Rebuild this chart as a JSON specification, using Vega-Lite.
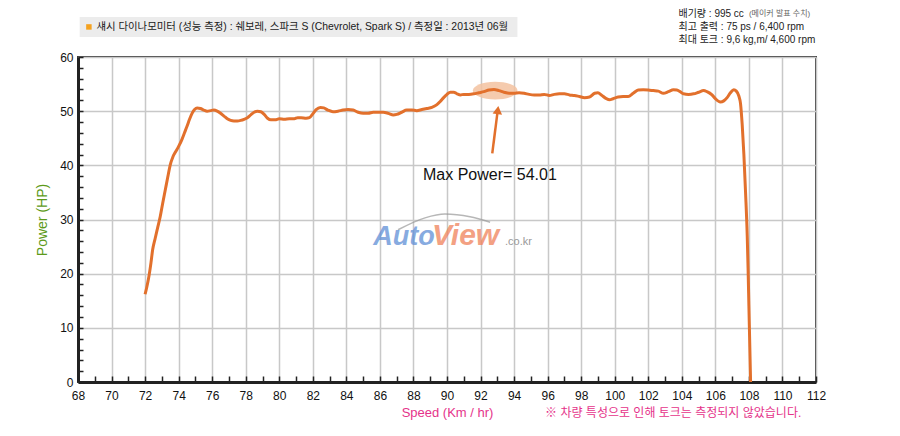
{
  "$schema": "https://vega.github.io/schema/vega-lite/v6.json",
  "width": 738,
  "height": 325,
  "autosize": {"type": "none"},
  "padding": {"left": 78, "top": 57, "right": 84, "bottom": 54},
  "background": "white",
  "config": {
    "font": "Liberation Sans, Noto Sans CJK KR",
    "view": {"stroke": "#3a3a3a", "strokeWidth": 2}
  },
  "encoding": {
    "x": {
      "field": "x",
      "type": "quantitative",
      "scale": {"domain": [68, 112], "nice": false, "zero": false},
      "axis": {
        "title": "Speed (Km / hr)",
        "titleColor": "#e5338a",
        "titleFontSize": 13,
        "titleFontWeight": "normal",
        "titlePadding": 5,
        "tickCount": 88,
        "format": "d",
        "labelExpr": "datum.value % 2 === 0 ? datum.label : ''",
        "labelOverlap": false,
        "labelFlush": false,
        "labelFontSize": 12,
        "labelColor": "#111",
        "labelPadding": 14,
        "grid": true,
        "gridColor": "#c8c8c8",
        "gridWidth": 1.5,
        "gridOpacity": {"condition": {"test": "datum.value % 2 === 0", "value": 1}, "value": 0},
        "tickSize": -6,
        "tickColor": "#222",
        "tickWidth": 1.5,
        "domainColor": "#222",
        "domainWidth": 3
      }
    },
    "y": {
      "field": "y",
      "type": "quantitative",
      "scale": {"domain": [0, 60], "nice": false},
      "axis": {
        "title": "Power (HP)",
        "titleColor": "#5d9a1a",
        "titleFontSize": 14,
        "titleFontWeight": "normal",
        "titlePadding": 10,
        "tickCount": 30,
        "format": "d",
        "labelExpr": "datum.value % 10 === 0 ? datum.label : ''",
        "labelOverlap": false,
        "labelFontSize": 12,
        "labelColor": "#111",
        "labelPadding": 10,
        "grid": true,
        "gridColor": "#c8c8c8",
        "gridWidth": 1.5,
        "gridOpacity": {"condition": {"test": "datum.value % 10 === 0", "value": 1}, "value": 0},
        "tickSize": -5,
        "tickColor": "#222",
        "tickWidth": 1.5,
        "domainColor": "#222",
        "domainWidth": 3
      }
    }
  },
  "layer": [
    {
      "data": {"values": [{"x": 68.1, "x2": 94.2, "y": 63.7, "y2": 67.4}]},
      "mark": {"type": "rect", "color": "#ececec"},
      "encoding": {"x2": {"field": "x2"}, "y2": {"field": "y2"}}
    },
    {
      "data": {"values": [{"x": 68.65, "y": 65.55}]},
      "mark": {"type": "square", "color": "#f5a21f", "opacity": 1, "size": 30}
    },
    {
      "data": {"values": [{"x": 69.1, "y": 65.55, "t": "섀시 다이나모미터 (성능 측정) : 쉐보레, 스파크 S (Chevrolet, Spark S) / 측정일 : 2013년 06월"}]},
      "mark": {"type": "text", "align": "left", "baseline": "middle", "fontSize": 10.4, "color": "#1a1a1a"},
      "encoding": {"text": {"field": "t"}}
    },
    {
      "data": {"values": [
        {"x": 103.8, "y": 67.9, "t": "배기량 : 995 cc"},
        {"x": 103.8, "y": 65.5, "t": "최고 출력 : 75 ps / 6,400 rpm"},
        {"x": 103.8, "y": 63.1, "t": "최대 토크 : 9,6 kg,m/ 4,600 rpm"}
      ]},
      "mark": {"type": "text", "align": "left", "baseline": "middle", "fontSize": 10, "color": "#222"},
      "encoding": {"text": {"field": "t"}}
    },
    {
      "data": {"values": [{"x": 108.0, "y": 67.9, "t": "(메이커 발표 수치)"}]},
      "mark": {"type": "text", "align": "left", "baseline": "middle", "fontSize": 8, "color": "#666"},
      "encoding": {"text": {"field": "t"}}
    },
    {
      "data": {"values": [
        {"x": 87.08, "y": 28.1},
        {"x": 88.69, "y": 30.3},
        {"x": 89.88, "y": 31.0},
        {"x": 91.37, "y": 30.5},
        {"x": 92.57, "y": 29.5}
      ]},
      "mark": {"type": "line", "color": "#999", "strokeWidth": 1.5, "opacity": 0.7, "interpolate": "monotone"}
    },
    {
      "data": {"values": [
        {"x": 85.6, "y": 25.3, "t": "Auto", "c": "a", "s": 27},
        {"x": 89.1, "y": 25.3, "t": "View", "c": "v", "s": 30}
      ]},
      "mark": {"type": "text", "align": "left", "baseline": "alphabetic", "fontWeight": "bold", "fontStyle": "italic", "opacity": 0.75},
      "encoding": {
        "text": {"field": "t"},
        "size": {"field": "s", "type": "quantitative", "scale": null},
        "color": {"field": "c", "type": "nominal", "scale": {"domain": ["a", "v"], "range": ["#5f8fd6", "#f0825a"]}, "legend": null}
      }
    },
    {
      "data": {"values": [{"x": 93.46, "y": 25.3, "t": ".co.kr"}]},
      "mark": {"type": "text", "align": "left", "baseline": "alphabetic", "fontSize": 11, "color": "#999"},
      "encoding": {"text": {"field": "t"}}
    },
    {
      "data": {"values": [{"x": 92.87, "y": 53.8}]},
      "mark": {"type": "point", "shape": "M-1,0A1,0.4 0 1,0 1,0A1,0.4 0 1,0 -1,0Z", "size": 1990, "filled": true, "color": "#f3c2a0", "opacity": 0.85}
    },
    {
      "data": {"values": [
        {"x": 72.0, "y": 16.2}, {"x": 72.1, "y": 17.5}, {"x": 72.2, "y": 19.0}, {"x": 72.35, "y": 22.0},
        {"x": 72.45, "y": 24.4}, {"x": 72.6, "y": 26.5}, {"x": 72.75, "y": 28.5}, {"x": 72.9, "y": 30.5},
        {"x": 73.05, "y": 33.0}, {"x": 73.2, "y": 35.4}, {"x": 73.35, "y": 37.8}, {"x": 73.5, "y": 40.1},
        {"x": 73.65, "y": 41.5}, {"x": 73.8, "y": 42.4}, {"x": 74.0, "y": 43.5}, {"x": 74.2, "y": 44.8},
        {"x": 74.35, "y": 46.0}, {"x": 74.5, "y": 47.2}, {"x": 74.65, "y": 48.5}, {"x": 74.8, "y": 49.6},
        {"x": 74.95, "y": 50.3}, {"x": 75.1, "y": 50.6}, {"x": 75.3, "y": 50.5}, {"x": 75.5, "y": 50.2},
        {"x": 75.7, "y": 50.0}, {"x": 75.9, "y": 50.1}, {"x": 76.1, "y": 50.2}, {"x": 76.3, "y": 50.0},
        {"x": 76.5, "y": 49.6}, {"x": 76.7, "y": 49.1}, {"x": 76.9, "y": 48.6}, {"x": 77.1, "y": 48.3},
        {"x": 77.3, "y": 48.2}, {"x": 77.5, "y": 48.2}, {"x": 77.7, "y": 48.3}, {"x": 77.9, "y": 48.5},
        {"x": 78.1, "y": 48.8}, {"x": 78.3, "y": 49.3}, {"x": 78.5, "y": 49.8}, {"x": 78.7, "y": 50.0},
        {"x": 78.9, "y": 49.9}, {"x": 79.1, "y": 49.4}, {"x": 79.3, "y": 48.7}, {"x": 79.5, "y": 48.4},
        {"x": 79.75, "y": 48.4}, {"x": 80.0, "y": 48.6}, {"x": 80.3, "y": 48.5}, {"x": 80.6, "y": 48.6},
        {"x": 80.9, "y": 48.6}, {"x": 81.1, "y": 48.8}, {"x": 81.3, "y": 48.8}, {"x": 81.6, "y": 48.7},
        {"x": 81.8, "y": 48.8}, {"x": 82.0, "y": 49.5}, {"x": 82.2, "y": 50.3}, {"x": 82.45, "y": 50.7},
        {"x": 82.65, "y": 50.6}, {"x": 82.9, "y": 50.2}, {"x": 83.2, "y": 49.9}, {"x": 83.5, "y": 50.0},
        {"x": 83.8, "y": 50.2}, {"x": 84.1, "y": 50.3}, {"x": 84.4, "y": 50.2}, {"x": 84.7, "y": 49.8},
        {"x": 85.0, "y": 49.6}, {"x": 85.3, "y": 49.6}, {"x": 85.6, "y": 49.8}, {"x": 85.9, "y": 49.8},
        {"x": 86.2, "y": 49.8}, {"x": 86.5, "y": 49.6}, {"x": 86.8, "y": 49.3}, {"x": 87.0, "y": 49.4},
        {"x": 87.3, "y": 49.8}, {"x": 87.6, "y": 50.2}, {"x": 87.9, "y": 50.2}, {"x": 88.2, "y": 50.1},
        {"x": 88.5, "y": 50.3}, {"x": 88.8, "y": 50.5}, {"x": 89.1, "y": 50.7}, {"x": 89.4, "y": 51.2},
        {"x": 89.6, "y": 51.8}, {"x": 89.8, "y": 52.5}, {"x": 90.0, "y": 53.1}, {"x": 90.2, "y": 53.5},
        {"x": 90.4, "y": 53.5}, {"x": 90.6, "y": 53.2}, {"x": 90.8, "y": 53.0}, {"x": 91.0, "y": 53.1},
        {"x": 91.3, "y": 53.1}, {"x": 91.6, "y": 53.2}, {"x": 91.9, "y": 53.4}, {"x": 92.2, "y": 53.6},
        {"x": 92.5, "y": 53.9}, {"x": 92.8, "y": 54.01}, {"x": 93.1, "y": 53.8}, {"x": 93.4, "y": 53.5},
        {"x": 93.7, "y": 53.3}, {"x": 94.0, "y": 53.3}, {"x": 94.3, "y": 53.4}, {"x": 94.6, "y": 53.3},
        {"x": 94.9, "y": 53.1}, {"x": 95.2, "y": 53.0}, {"x": 95.5, "y": 53.0}, {"x": 95.8, "y": 53.1},
        {"x": 96.1, "y": 52.9}, {"x": 96.4, "y": 53.1}, {"x": 96.7, "y": 53.2}, {"x": 97.0, "y": 53.2},
        {"x": 97.3, "y": 53.0}, {"x": 97.6, "y": 52.9}, {"x": 97.9, "y": 52.7}, {"x": 98.2, "y": 52.5},
        {"x": 98.5, "y": 52.6}, {"x": 98.8, "y": 53.3}, {"x": 99.0, "y": 53.4}, {"x": 99.2, "y": 53.0},
        {"x": 99.5, "y": 52.3}, {"x": 99.7, "y": 52.1}, {"x": 99.9, "y": 52.3}, {"x": 100.2, "y": 52.6},
        {"x": 100.5, "y": 52.7}, {"x": 100.8, "y": 52.7}, {"x": 101.1, "y": 53.3}, {"x": 101.4, "y": 53.9},
        {"x": 101.7, "y": 53.95}, {"x": 102.0, "y": 53.9}, {"x": 102.3, "y": 53.8}, {"x": 102.6, "y": 53.7},
        {"x": 102.9, "y": 53.3}, {"x": 103.2, "y": 53.6}, {"x": 103.5, "y": 53.95}, {"x": 103.7, "y": 53.9},
        {"x": 103.9, "y": 53.6}, {"x": 104.1, "y": 53.2}, {"x": 104.4, "y": 53.1}, {"x": 104.7, "y": 53.2},
        {"x": 105.0, "y": 53.5}, {"x": 105.3, "y": 53.8}, {"x": 105.5, "y": 53.6}, {"x": 105.8, "y": 53.0},
        {"x": 106.0, "y": 52.3}, {"x": 106.3, "y": 51.7}, {"x": 106.5, "y": 51.9}, {"x": 106.7, "y": 52.5},
        {"x": 106.9, "y": 53.4}, {"x": 107.1, "y": 53.95}, {"x": 107.25, "y": 53.7}, {"x": 107.4, "y": 52.8},
        {"x": 107.5, "y": 51.4}, {"x": 107.6, "y": 47.5}, {"x": 107.7, "y": 42.0}, {"x": 107.8, "y": 35.0},
        {"x": 107.9, "y": 27.0}, {"x": 107.95, "y": 21.0}, {"x": 108.0, "y": 14.0}, {"x": 108.05, "y": 7.0},
        {"x": 108.1, "y": 0}
      ]},
      "mark": {"type": "line", "color": "#e2702c", "strokeWidth": 3, "interpolate": "monotone"}
    },
    {
      "data": {"values": [{"x": 92.7, "y": 42.2, "x2": 93.0, "y2": 49.6}]},
      "mark": {"type": "rule", "color": "#e2702c", "strokeWidth": 2.5},
      "encoding": {"x2": {"field": "x2"}, "y2": {"field": "y2"}}
    },
    {
      "data": {"values": [{"x": 93.03, "y": 50.2}]},
      "mark": {"type": "point", "shape": "triangle-up", "size": 90, "filled": true, "color": "#e2702c", "opacity": 1, "angle": 7}
    },
    {
      "data": {"values": [{"x": 88.57, "y": 38.2, "t": "Max Power= 54.01"}]},
      "mark": {"type": "text", "align": "left", "baseline": "middle", "fontSize": 16, "color": "#111"},
      "encoding": {"text": {"field": "t"}}
    },
    {
      "data": {"values": [{"x": 95.85, "y": -5.75, "t": "※ 차량 특성으로 인해 토크는 측정되지 않았습니다."}]},
      "mark": {"type": "text", "align": "left", "baseline": "middle", "fontSize": 12, "color": "#e5338a"},
      "encoding": {"text": {"field": "t"}}
    }
  ]
}
